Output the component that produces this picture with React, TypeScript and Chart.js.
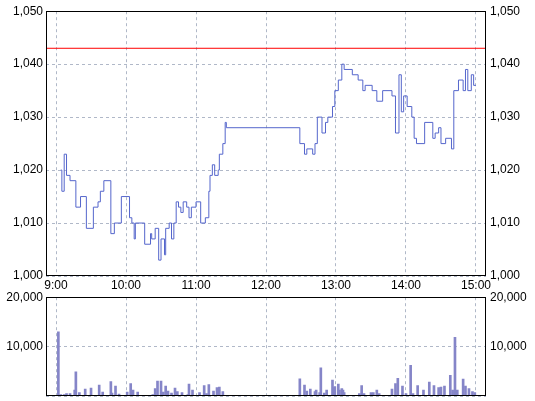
import React, { useEffect, useRef } from 'react';
import { Chart, registerables } from 'chart.js';

Chart.register(...registerables);

// minutes after 9:00
const HOUR_TICKS = [0, 60, 120, 180, 240, 300, 360];
const HOUR_LABELS = ['9:00', '10:00', '11:00', '12:00', '13:00', '14:00', '15:00'];
const X_MIN = -8.6;
const X_MAX = 368.6;

const PRICE_MIN = 1000;
const PRICE_MAX = 1050;
const PRICE_STEP = 10;
const BASE_PRICE = 1043;

const PRICE_TIMES = [4, 5, 7, 9, 12, 17, 21, 26, 32, 36, 38, 41, 47, 50, 56, 63, 65, 67, 68, 76, 81, 82, 85, 88, 90, 93, 94, 97, 99, 101, 103, 105, 107, 109, 112, 114, 116, 120, 124, 128, 131, 132, 134, 136, 139, 140, 143, 145, 146, 209, 213, 215, 220, 222, 224, 228, 231, 233, 237, 239, 242, 245, 247, 254, 259, 263, 265, 271, 275, 280, 288, 291, 294, 296, 298, 301, 305, 307, 309, 316, 323, 325, 328, 330, 334, 339, 341, 345, 349, 351, 353, 356, 358, 360];
const PRICES = [1020, 1016, 1023, 1019, 1018, 1013, 1015, 1009, 1013, 1014, 1016, 1018, 1008, 1010, 1015, 1011, 1010, 1007, 1010, 1006, 1008, 1007, 1009, 1003, 1007, 1004, 1009, 1010, 1007, 1010, 1014, 1013, 1012, 1014, 1013, 1011, 1013, 1014, 1010, 1011, 1016, 1019, 1021, 1019, 1020, 1023, 1025, 1029, 1028, 1025, 1023, 1024, 1023, 1025, 1030, 1027, 1029, 1030, 1032, 1035, 1037, 1040, 1039, 1038, 1037, 1035, 1036, 1035, 1033, 1035, 1034, 1027, 1038, 1031, 1034, 1032, 1030, 1026, 1025, 1029, 1026, 1027, 1028, 1025, 1026, 1024, 1035, 1037, 1035, 1039, 1035, 1038, 1036, 1036];

const VOLUME_MAX = 20000;
const VOLUME_STEP = 10000;
const VOLUME_TIMES = [2, 4, 7, 9, 12, 16, 17, 20, 25, 30, 37, 40, 47, 48, 51, 54, 61, 64, 66, 70, 83, 85, 87, 90, 92, 94, 96, 99, 102, 104, 108, 113, 114, 117, 123, 127, 129, 131, 135, 138, 140, 143, 209, 213, 215, 218, 222, 223, 226, 227, 230, 232, 237, 238, 239, 242, 243, 245, 246, 247, 260, 262, 264, 270, 272, 275, 277, 288, 291, 293, 297, 300, 304, 306, 310, 315, 320, 324, 328, 330, 333, 338, 340, 342, 344, 349, 351, 354, 357, 359];
const VOLUMES = [13000, 300, 300, 500, 500, 1200, 4900, 700, 1400, 1600, 2200, 800, 2900, 600, 2000, 400, 800, 2500, 1200, 800, 300, 1500, 3000, 3000, 800, 2000, 1000, 600, 1600, 900, 700, 300, 2400, 1200, 700, 2100, 500, 2300, 1000, 1700, 1800, 900, 3500, 2200, 1000, 1400, 900, 1200, 700, 5700, 600, 1200, 3200, 1700, 1900, 2400, 1200, 1500, 1200, 700, 500, 2100, 500, 700, 700, 1200, 500, 1400, 2500, 3600, 2000, 500, 6200, 500, 2100, 1200, 2800, 2100, 1700, 1800, 2000, 4200, 1200, 11900, 1200, 3400, 2000, 1500, 900, 700];

const GRID_COLOR = '#b0b8c8';
const LINE_COLOR = '#5566cc';
const BAR_COLOR = '#8585c8';
const FONT = { family: "'Liberation Sans', Arial, sans-serif", size: 12 };

const framePlugin = {
  id: 'frame',
  afterDraw(chart: any) {
    const { ctx, chartArea: a } = chart;
    ctx.save();
    ctx.strokeStyle = '#000';
    ctx.lineWidth = 1;
    const l = Math.round(a.left) + 0.5;
    const t = Math.round(a.top) + 0.5;
    const r = Math.round(a.right) - 0.5;
    const b = Math.round(a.bottom) - 0.5;
    ctx.strokeRect(l, t, r - l, b - t);
    ctx.restore();
  },
};

const hourTicks = (s: any) => {
  s.ticks = HOUR_TICKS.map((v) => ({ value: v }));
};

const fmt = (v: number) => v.toLocaleString('en-US');

export default function App() {
  const topRef = useRef<HTMLCanvasElement>(null);
  const botRef = useRef<HTMLCanvasElement>(null);

  useEffect(() => {
    const priceData = PRICE_TIMES.map((t, i) => ({ x: t, y: PRICES[i] }));
    const top = new Chart(topRef.current!, {
      type: 'line',
      data: {
        datasets: [
          {
            data: priceData,
            stepped: true,
            borderColor: LINE_COLOR,
            borderWidth: 1,
            pointRadius: 0,
            fill: false,
            yAxisID: 'y',
          },
          {
            data: [
              { x: X_MIN, y: BASE_PRICE },
              { x: X_MAX, y: BASE_PRICE },
            ],
            borderColor: '#ff0000',
            borderWidth: 1,
            pointRadius: 0,
            fill: false,
            yAxisID: 'y',
          },
        ],
      },
      options: {
        animation: false,
        responsive: false,
        events: [],
        layout: { padding: { top: 11, left: 0, right: 0, bottom: 0 } },
        plugins: { legend: { display: false }, tooltip: { enabled: false } },
        scales: {
          x: {
            type: 'linear',
            min: X_MIN,
            max: X_MAX,
            afterBuildTicks: hourTicks,
            afterFit: (s: any) => {
              s.height = 16;
            },
            ticks: {
              callback: (v: any) => HOUR_LABELS[HOUR_TICKS.indexOf(v)] ?? '',
              padding: 2,
              color: '#000',
              font: FONT,
              maxRotation: 0,
              autoSkip: false,
            },
            grid: { color: GRID_COLOR, drawTicks: false },
            border: { display: false, dash: [3, 3] },
          },
          y: {
            position: 'left',
            min: PRICE_MIN,
            max: PRICE_MAX,
            afterFit: (s: any) => {
              s.width = 46;
            },
            ticks: { stepSize: PRICE_STEP, padding: 3, color: '#000', font: FONT, callback: (v: any) => fmt(v) },
            grid: { color: GRID_COLOR, drawTicks: false },
            border: { display: false, dash: [3, 3] },
          },
          y2: {
            position: 'right',
            min: PRICE_MIN,
            max: PRICE_MAX,
            afterFit: (s: any) => {
              s.width = 49;
            },
            ticks: { stepSize: PRICE_STEP, padding: 4, color: '#000', font: FONT, callback: (v: any) => fmt(v) },
            grid: { display: false, drawTicks: false },
            border: { display: false },
          },
        },
      },
      plugins: [framePlugin],
    } as any);

    const volData = VOLUME_TIMES.map((t, i) => ({ x: t, y: VOLUMES[i] }));
    const bot = new Chart(botRef.current!, {
      type: 'bar',
      data: {
        datasets: [
          {
            data: volData,
            backgroundColor: BAR_COLOR,
            borderWidth: 0,
            barThickness: 2,
            yAxisID: 'y',
          },
        ],
      },
      options: {
        animation: false,
        responsive: false,
        events: [],
        layout: { padding: { top: 10, left: 0, right: 0, bottom: 0 } },
        plugins: { legend: { display: false }, tooltip: { enabled: false } },
        scales: {
          x: {
            type: 'linear',
            min: X_MIN,
            max: X_MAX,
            offset: false,
            afterBuildTicks: hourTicks,
            afterFit: (s: any) => {
              s.height = 14;
            },
            ticks: { display: false },
            grid: { color: GRID_COLOR, drawTicks: false, offset: false },
            border: { display: false, dash: [3, 3] },
          },
          y: {
            position: 'left',
            min: 0,
            max: VOLUME_MAX,
            afterFit: (s: any) => {
              s.width = 46;
            },
            ticks: {
              stepSize: VOLUME_STEP,
              padding: 3,
              color: '#000',
              font: FONT,
              callback: (v: any) => (v === 0 ? '' : fmt(v)),
            },
            grid: { color: GRID_COLOR, drawTicks: false },
            border: { display: false, dash: [3, 3] },
          },
          y2: {
            position: 'right',
            min: 0,
            max: VOLUME_MAX,
            afterFit: (s: any) => {
              s.width = 49;
            },
            ticks: {
              stepSize: VOLUME_STEP,
              padding: 4,
              color: '#000',
              font: FONT,
              callback: (v: any) => (v === 0 ? '' : fmt(v)),
            },
            grid: { display: false, drawTicks: false },
            border: { display: false },
          },
        },
      },
      plugins: [framePlugin],
    } as any);

    return () => {
      top.destroy();
      bot.destroy();
    };
  }, []);

  return (
    <div
      style={{
        position: 'absolute',
        left: 0,
        top: 0,
        width: 535,
        height: 401,
        overflow: 'hidden',
        background: '#fff',
      }}
    >
      <canvas ref={topRef} width={535} height={292} style={{ position: 'absolute', left: 0, top: 0 }} />
      <canvas ref={botRef} width={535} height={124} style={{ position: 'absolute', left: 0, top: 286 }} />
    </div>
  );
}
